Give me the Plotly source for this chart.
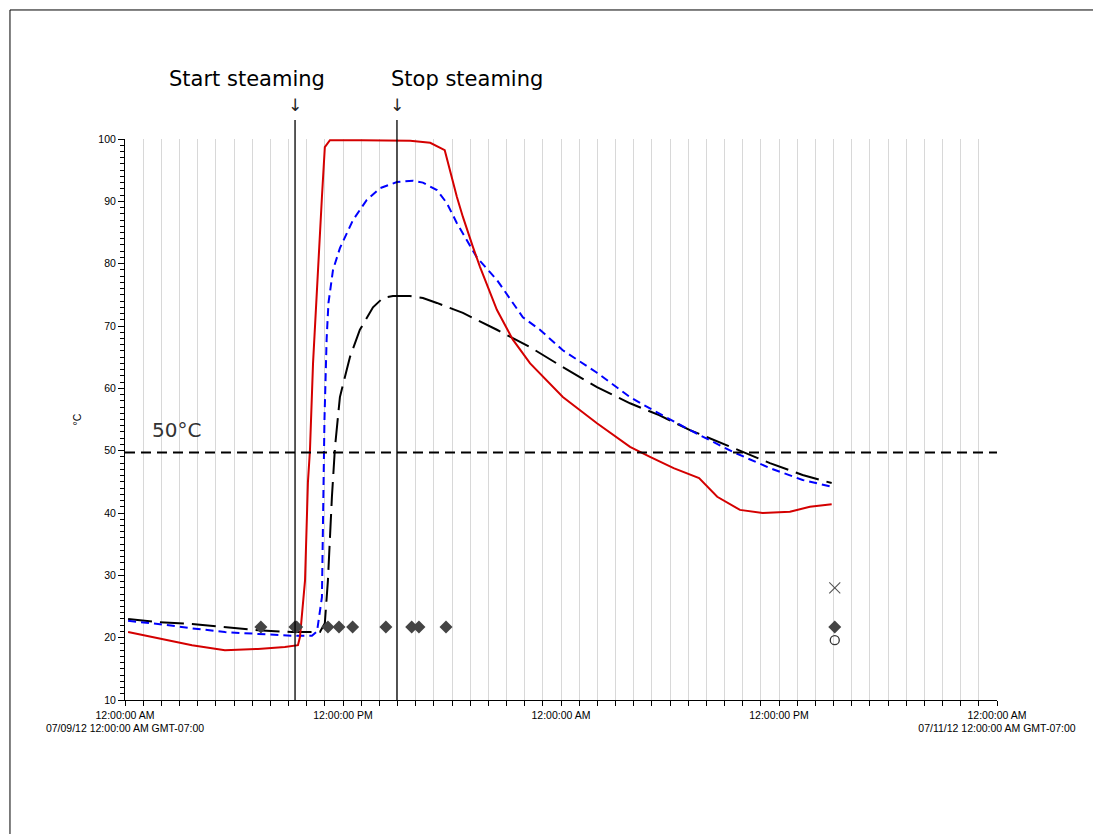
import plotly.graph_objects as go

# ---- data (hours since 07/09/12 00:00, GMT-07:00) ----
red_h = [0.17, 1.82, 3.69, 5.5, 7.32, 8.8, 9.52, 9.63, 9.74, 9.91, 10.07, 10.18, 10.35, 10.62, 10.84, 11.0, 11.28,
         13.0, 15.0, 15.7, 16.8, 17.6, 18.27, 18.6, 19.15, 19.54, 20.47, 21.35, 22.3, 24.1, 25.98, 27.8, 28.9,
         30.2, 31.6, 32.6, 33.85, 35.1, 36.6, 37.7, 38.9]
red_v = [20.9, 19.9, 18.8, 18.0, 18.2, 18.5, 18.8, 20.1, 24.0, 29.2, 45.0, 50.0, 64.0, 80.0, 90.7, 98.7, 99.8,
         99.8, 99.8, 99.7, 99.4, 98.2, 90.7, 87.5, 82.7, 79.5, 72.6, 67.8, 64.0, 58.6, 54.4, 50.6, 49.0,
         47.2, 45.6, 42.6, 40.5, 40.0, 40.2, 41.0, 41.4]

blue_h = [0.17, 1.82, 3.69, 5.5, 7.32, 9.19, 10.29, 10.57, 10.84, 10.9, 10.98, 11.1, 11.2, 11.45, 11.83, 12.55,
          13.3, 14.03, 14.97, 15.85, 16.4, 17.17, 17.72, 18.27, 18.6, 19.37, 20.47, 21.9, 22.84, 24.1, 25.98,
          27.8, 29.06, 31.1, 33.46, 35.5, 37.3, 38.9]
blue_v = [22.7, 22.2, 21.5, 20.9, 20.6, 20.3, 20.3, 21.0, 26.5, 40.0, 55.0, 68.0, 73.7, 79.0, 82.5, 87.0,
          90.2, 92.1, 93.1, 93.3, 93.0, 91.8, 89.7, 86.5, 84.9, 81.0, 77.4, 71.4, 69.4, 66.1, 62.5,
          58.6, 56.5, 53.3, 49.8, 47.2, 45.3, 44.2]

black_h = [0.17, 1.82, 3.69, 5.5, 7.32, 9.19, 10.73, 11.0, 11.17, 11.39, 11.56, 11.83, 12.38, 12.93, 13.65,
           14.2, 14.75, 15.68, 16.4, 17.17, 18.6, 20.47, 22.3, 24.1, 25.98, 27.8, 29.4, 31.1, 33.3, 35.5,
           37.3, 38.9]
black_v = [23.0, 22.5, 22.2, 21.7, 21.2, 20.9, 20.9, 22.3, 29.2, 42.6, 50.6, 58.6, 65.0, 69.4, 73.0,
           74.5, 74.8, 74.8, 74.5, 73.7, 72.1, 69.4, 66.6, 63.4, 60.2, 57.6, 55.7, 53.3, 50.6, 48.0,
           46.1, 44.8]

diamond_h = [7.48, 9.35, 9.45, 11.17, 11.78, 12.53, 14.36, 15.78, 16.18, 17.67, 39.07]
diamond_v = [21.7] * len(diamond_h)
cross_h, cross_v = [39.07], [28.0]
circle_h, circle_v = [39.07], [19.6]

threshold = 49.7
start_steam_h = 9.36
stop_steam_h = 14.97

tick_hours = list(range(0, 49))
major_labels = {
    0: "12:00:00 AM<br>07/09/12 12:00:00 AM GMT-07:00",
    12: "12:00:00 PM",
    24: "12:00:00 AM",
    36: "12:00:00 PM",
    48: "12:00:00 AM<br>07/11/12 12:00:00 AM GMT-07:00",
}
tick_text = [major_labels.get(h, "") for h in tick_hours]

# ---- figure ----
fig = go.Figure()
fig.add_trace(go.Scatter(x=black_h, y=black_v, mode="lines",
                         line=dict(color="black", width=2, dash="24px,8px"), hoverinfo="skip"))
fig.add_trace(go.Scatter(x=blue_h, y=blue_v, mode="lines",
                         line=dict(color="#0000ff", width=2, dash="8px,5px"), hoverinfo="skip"))
fig.add_trace(go.Scatter(x=red_h, y=red_v, mode="lines",
                         line=dict(color="#d40000", width=2), hoverinfo="skip"))
fig.add_trace(go.Scatter(x=diamond_h, y=diamond_v, mode="markers",
                         marker=dict(symbol="diamond", size=10, color="#444444")))
fig.add_trace(go.Scatter(x=cross_h, y=cross_v, mode="markers",
                         marker=dict(symbol="x-thin-open", size=11, color="#555555", line=dict(width=1.1, color="#555555"))))
fig.add_trace(go.Scatter(x=circle_h, y=circle_v, mode="markers",
                         marker=dict(symbol="circle-open", size=9, color="#333333", line=dict(width=1.3, color="#333333"))))

# threshold line
fig.add_shape(type="line", xref="x", yref="y", x0=0, x1=48, y0=threshold, y1=threshold,
              line=dict(color="black", width=2, dash="10px,6px"))

# steaming lines
for h in (start_steam_h, stop_steam_h):
    fig.add_shape(type="line", xref="x", yref="paper", x0=h, x1=h, y0=0, y1=1.034,
                  line=dict(color="black", width=1.3))

# outer border
fig.add_shape(type="rect", xref="paper", yref="paper", x0=-0.1319, x1=1.1170, y0=-0.245, y1=1.230,
              line=dict(color="black", width=1), fillcolor="rgba(0,0,0,0)")

annot_font = dict(family="DejaVu Sans, sans-serif", size=21, color="black")
fig.add_annotation(x=start_steam_h - 2.65, y=1.082, xref="x", yref="paper", text="Start steaming",
                   showarrow=False, font=annot_font, yanchor="bottom")
fig.add_annotation(x=stop_steam_h + 3.85, y=1.082, xref="x", yref="paper", text="Stop steaming",
                   showarrow=False, font=annot_font, yanchor="bottom")
for h in (start_steam_h, stop_steam_h):
    fig.add_annotation(x=h, y=1.04, xref="x", yref="paper", text="↓", showarrow=False,
                       font=dict(family="DejaVu Sans, sans-serif", size=17, color="#222"), yanchor="bottom")
fig.add_annotation(x=1.4, y=53.3, xref="x", yref="y", text="50°C", showarrow=False, xanchor="left",
                   font=dict(family="DejaVu Sans, sans-serif", size=20, color="#333"))

fig.update_layout(
    width=1101, height=834,
    margin=dict(l=117, r=112, t=131, b=142),
    paper_bgcolor="white", plot_bgcolor="white",
    showlegend=False,
    font=dict(family="Liberation Sans, Arial, sans-serif", size=10.5, color="black"),
    xaxis=dict(range=[0, 48], tickvals=tick_hours, ticktext=tick_text, tickangle=0,
               showgrid=True, gridcolor="#d8d8d8", gridwidth=1,
               showline=True, linecolor="black", linewidth=1,
               ticks="outside", ticklen=5, tickcolor="black", zeroline=False,
               tickfont=dict(size=10.5)),
    yaxis=dict(range=[10, 100], tickvals=list(range(10, 101, 10)),
               showgrid=False, showline=True, linecolor="black", linewidth=1,
               ticks="outside", ticklen=6, tickcolor="black", zeroline=False,
               minor=dict(dtick=1, ticks="outside", ticklen=4, tickcolor="black", showgrid=False),
               title=dict(text="°C", font=dict(size=10.5), standoff=14),
               tickfont=dict(size=10.5)),
)

fig.write_html("out.html")
